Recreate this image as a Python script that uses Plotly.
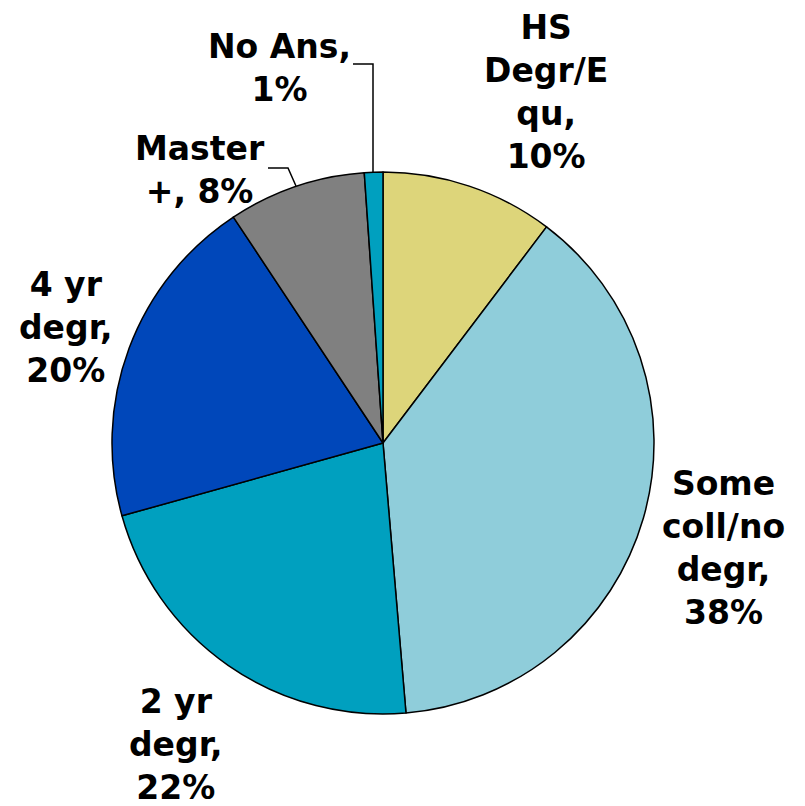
import plotly.graph_objects as go

categories = ["HS Degr/Equ", "Some coll/no degr", "2 yr degr", "4 yr degr", "Master +", "No Ans"]
values = [10.3, 38.3, 22.0, 20.0, 8.2, 1.1]
label_texts = ["HS<br>Degr/E<br>qu,<br>10%", "Some<br>coll/no<br>degr,<br>38%", "2 yr<br>degr,<br>22%",
               "4 yr<br>degr,<br>20%", "Master<br>+, 8%", "No Ans,<br>1%"]
colors = ["#DDD57A", "#8FCDDA", "#00A0BF", "#0047BA", "#808080", "#00A0BF"]

W, H = 805, 806
OFF = 8  # page body margin
cx, cy, r = 383 - OFF, 443 - OFF, 271

fig = go.Figure(go.Pie(
    labels=categories, values=values, sort=False, direction="clockwise", rotation=0,
    marker=dict(colors=colors, line=dict(color="black", width=1.5)),
    textinfo="none", hoverinfo="label+percent", showlegend=False,
    domain=dict(x=[(cx - r) / W, (cx + r) / W], y=[(H - cy - r) / H, (H - cy + r) / H]),
))

label_pos = [(546, 92), (723, 548), (176, 744), (66, 327), (200, 170), (279, 68)]
font = dict(family="DejaVu Sans", size=33, color="black")
for txt, (x, y) in zip(label_texts, label_pos):
    fig.add_annotation(x=(x - OFF) / W, y=1 - (y - OFF) / H, xref="paper", yref="paper",
                       text="<b>" + txt + "</b>", showarrow=False, font=font, align="center",
                       xanchor="center", yanchor="middle")

def px(x, y):
    return (x - OFF) / W, 1 - (y - OFF) / H

leaders = [[(353, 64), (373, 64), (373, 173)], [(268, 168), (288, 168), (296, 186)]]
for pts in leaders:
    path = "M " + " L ".join(f"{px(x, y)[0]},{px(x, y)[1]}" for x, y in pts)
    fig.add_shape(type="path", path=path, xref="paper", yref="paper", line=dict(color="black", width=1.5))

fig.update_layout(width=W, height=H, margin=dict(l=0, r=0, t=0, b=0),
                  paper_bgcolor="white", plot_bgcolor="white")
fig.write_html("out.html")
